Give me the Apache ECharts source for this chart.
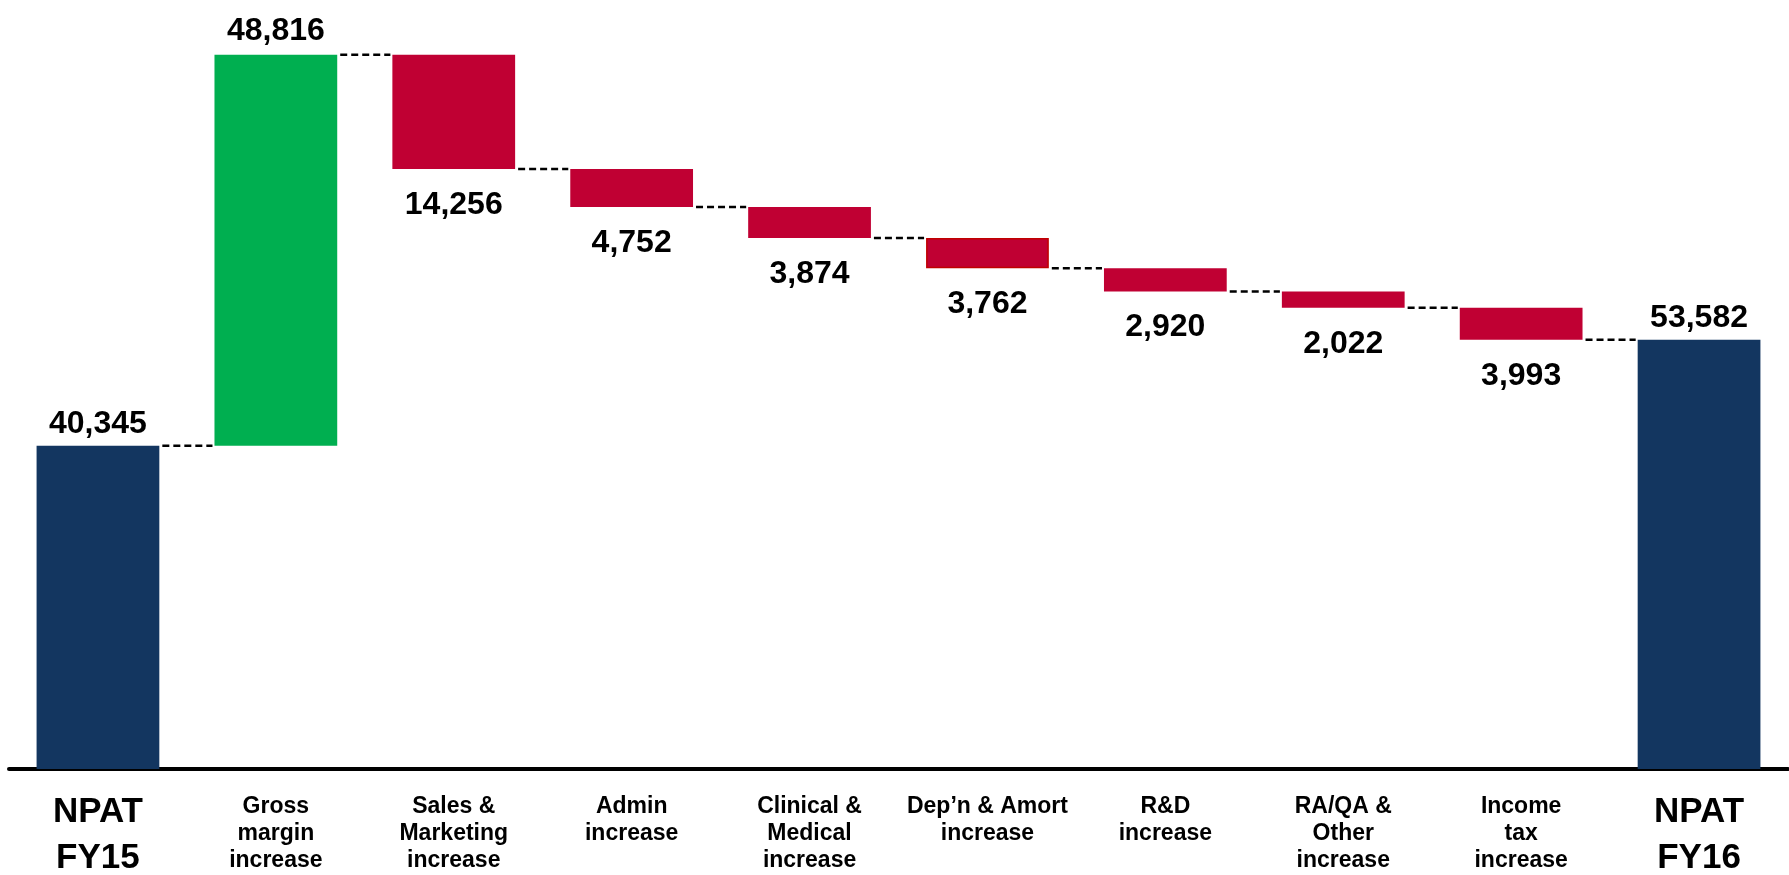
<!DOCTYPE html>
<html>
<head>
<meta charset="utf-8">
<title>NPAT FY15 to NPAT FY16</title>
<script src="https://cdn.jsdelivr.net/npm/echarts@6/dist/echarts.min.js"></script>
<style>
  html, body { margin: 0; padding: 0; background: #ffffff; }
  #chart { width: 1789px; height: 875px; }
</style>
</head>
<body>
<div id="chart"></div>
<script>
// Category labels (line breaks as shown under the axis)
const categories = [
  'NPAT\nFY15',
  'Gross\nmargin\nincrease',
  'Sales &\nMarketing\nincrease',
  'Admin\nincrease',
  'Clinical &\nMedical\nincrease',
  'Dep\u2019n & Amort\nincrease',
  'R&D\nincrease',
  'RA/QA &\nOther\nincrease',
  'Income\ntax\nincrease',
  'NPAT\nFY16'
];

// Opening and closing totals
const openingNpat = 40345;
const closingNpat = 53582;

// Movements between the two totals (positive = uplift, negative = cost)
const movements = [48816, -14256, -4752, -3874, -3762, -2920, -2022, -3993];

const COLOR_TOTAL = '#133660';
const COLOR_UP = '#00AF50';
const COLOR_DOWN = '#C00033';
const FONT = '"Liberation Sans", Arial, sans-serif';

// Build the invisible base and visible bar segments, plus the running level
const baseData = [0];
const barData = [];
const levels = [openingNpat];
barData.push({
  value: openingNpat,
  itemStyle: { color: COLOR_TOTAL },
  label: { position: 'top', distance: 6, formatter: openingNpat.toLocaleString('en-US') }
});
let running = openingNpat;
movements.forEach(function (m, i) {
  const next = running + m;
  baseData.push(Math.min(running, next));
  const item = {
    value: Math.abs(m),
    itemStyle: { color: m >= 0 ? COLOR_UP : COLOR_DOWN },
    label: {
      position: m >= 0 ? 'top' : 'bottom',
      distance: m >= 0 ? 8 : 20,
      formatter: Math.abs(m).toLocaleString('en-US')
    }
  };
  if (categories[i + 1].indexOf('Dep') === 0) {
    item.itemStyle.borderColor = '#C00000';
    item.itemStyle.borderWidth = 1.5;
  }
  barData.push(item);
  running = next;
  levels.push(running);
});
baseData.push(0);
barData.push({
  value: closingNpat,
  itemStyle: { color: COLOR_TOTAL },
  label: { position: 'top', distance: 6, formatter: closingNpat.toLocaleString('en-US') }
});

// Connector segments: from bar i to bar i+1 at the running level after bar i
const connectorData = levels.map(function (lv, i) { return [i, lv]; });
// Anchor points for the category captions under the axis
const captionData = categories.map(function (c, i) { return [i, 0]; });

const BAR_FRACTION = 0.69;

const chart = echarts.init(document.getElementById('chart'), null, { renderer: 'canvas' });

chart.setOption({
  animation: false,
  backgroundColor: '#ffffff',
  grid: { left: 9, right: 1, top: 8, bottom: 106, containLabel: false },
  xAxis: {
    type: 'category',
    data: categories,
    axisTick: { show: false },
    axisLine: { lineStyle: { color: '#000000', width: 4 } },
    axisLabel: { show: false }
  },
  yAxis: {
    type: 'value',
    min: 0,
    max: 95000,
    show: false,
    splitLine: { show: false }
  },
  series: [
    {
      name: 'base',
      type: 'bar',
      stack: 'waterfall',
      barCategoryGap: '31%',
      itemStyle: { color: 'transparent' },
      emphasis: { disabled: true },
      data: baseData,
      z: 1
    },
    {
      name: 'value',
      type: 'bar',
      stack: 'waterfall',
      barCategoryGap: '31%',
      data: barData,
      label: {
        show: true,
        fontFamily: FONT,
        fontWeight: 'bold',
        fontSize: 32,
        color: '#000000'
      },
      z: 2
    },
    {
      name: 'connectors',
      type: 'custom',
      data: connectorData,
      silent: true,
      z: 3,
      renderItem: function (params, api) {
        const p = api.coord([api.value(0), api.value(1)]);
        const band = api.size([1, 0])[0];
        const half = band * BAR_FRACTION / 2;
        const x1 = p[0] + half + 3;
        const x2 = p[0] + band - half - 2;
        return {
          type: 'line',
          shape: { x1: x1, y1: p[1], x2: x2, y2: p[1] },
          style: { stroke: '#000000', lineWidth: 2.5, lineDash: [7, 4] }
        };
      }
    },
    {
      // Category captions: the two NPAT totals are set larger
      name: 'captions',
      type: 'custom',
      data: captionData,
      silent: true,
      clip: false,
      z: 4,
      renderItem: function (params, api) {
        const p = api.coord([api.value(0), 0]);
        const text = categories[params.dataIndex];
        const big = text.indexOf('NPAT') === 0;
        return {
          type: 'text',
          x: p[0],
          y: p[1] + (big ? 20 : 24),
          style: {
            text: text,
            fontFamily: FONT,
            fontWeight: 'bold',
            fontSize: big ? 35 : 23,
            lineHeight: big ? 46 : 27,
            fill: '#000000',
            align: 'center',
            verticalAlign: 'top'
          }
        };
      }
    }
  ]
});
</script>
</body>
</html>
